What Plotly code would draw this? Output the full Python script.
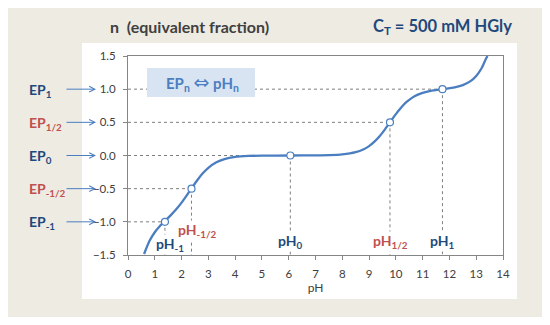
import plotly.graph_objects as go

# ---- data ----
ph_curve = [0.6, 0.8, 1.0, 1.2, 1.4, 1.6, 1.8, 2.0, 2.2, 2.4, 2.6, 2.8, 3.0, 3.3, 3.6,
            4.0, 4.5, 5.0, 6.06, 7.0, 7.5, 8.0, 8.5, 8.8, 9.0, 9.2, 9.4, 9.6, 9.8,
            10.0, 10.2, 10.4, 10.6, 10.8, 11.0, 11.3, 11.6, 11.9, 12.2, 12.5, 12.8,
            13.0, 13.2, 13.35, 13.42]
n_curve = [-1.485, -1.290, -1.157, -1.060, -0.979, -0.899, -0.812, -0.711, -0.598, -0.479,
           -0.365, -0.265, -0.185, -0.102, -0.054, -0.022, -0.007, -0.002, 0.0, 0.002,
           0.005, 0.016, 0.050, 0.095, 0.142, 0.208, 0.294, 0.398, 0.512, 0.624, 0.725,
           0.807, 0.869, 0.914, 0.945, 0.975, 0.993, 1.008, 1.028, 1.061, 1.125, 1.199,
           1.316, 1.447, 1.500]

ep_ph = [1.38, 2.37, 6.06, 9.78, 11.74]
ep_n = [-1.0, -0.5, 0.0, 0.5, 1.0]
ep_labels = ["EP<sub>-1</sub>", "EP<sub>-1/2</sub>", "EP<sub>0</sub>", "EP<sub>1/2</sub>", "EP<sub>1</sub>"]
ph_labels = ["pH<sub>-1</sub>", "pH<sub>-1/2</sub>", "pH<sub>0</sub>", "pH<sub>1/2</sub>", "pH<sub>1</sub>"]
is_half = [False, True, False, True, False]

x_ticks = list(range(0, 15))
y_ticks = [-1.5, -1.0, -0.5, 0.0, 0.5, 1.0, 1.5]

# ---- styles ----
FONT = "Lato"
BLUE = "#4A7EC1"
NAVY = "#1F497D"
RED = "#C0504D"
GRAY_TXT = "#404040"
BEIGE = "#EEEBE2"

OFF = 8            # page body margin offset
W, H = 550 - OFF, 325 - OFF
PL, PR, PT, PB = 128, 503, 56, 255      # plot area in page pixels
L, R, T, B = PL - OFF, W - (PR - OFF), PT - OFF, H - (PB - OFF)


def px(x):
    return (x - PL) / (PR - PL)


def py(y):
    return (PB - y) / (PB - PT)


fig = go.Figure()

# dashed guide lines
for p, n in zip(ep_ph, ep_n):
    fig.add_trace(go.Scatter(x=[0, p], y=[n, n], mode="lines",
                             line=dict(color="#7F7F7F", width=1, dash="3px,3px"),
                             hoverinfo="skip", showlegend=False))
    fig.add_trace(go.Scatter(x=[p, p], y=[n, y_ticks[0]], mode="lines",
                             line=dict(color="#7F7F7F", width=1, dash="3px,3px"),
                             hoverinfo="skip", showlegend=False))

fig.add_trace(go.Scatter(x=ph_curve, y=n_curve, mode="lines",
                         line=dict(color=BLUE, width=2.3, shape="spline", smoothing=0.6),
                         showlegend=False))
fig.add_trace(go.Scatter(x=ep_ph, y=ep_n, mode="markers",
                         marker=dict(size=7, color="white", line=dict(color=BLUE, width=1.2)),
                         showlegend=False))

shapes = [
    dict(type="rect", xref="paper", yref="paper", x0=px(7), x1=px(543), y0=py(317), y1=py(5),
         fillcolor=BEIGE, line=dict(width=0), layer="below"),
    dict(type="rect", xref="paper", yref="paper", x0=px(82), x1=px(517), y0=py(299), y1=py(43),
         fillcolor="white", line=dict(width=0), layer="below"),
    dict(type="rect", xref="paper", yref="paper", x0=px(147), x1=px(255), y0=py(97), y1=py(68),
         fillcolor="#D9E4F2", line=dict(width=0), layer="above"),
]

ann = []
ann.append(dict(xref="paper", yref="paper", x=px(108), y=py(27), xanchor="left", yanchor="middle",
                text="n  (equivalent fraction)", showarrow=False,
                font=dict(family=FONT, size=16, color=GRAY_TXT, weight="bold")))
ann.append(dict(xref="paper", yref="paper", x=px(514), y=py(27), xanchor="right", yanchor="middle",
                text="C<sub>T</sub> = 500 mM HGly", showarrow=False,
                font=dict(family=FONT, size=16.5, color=NAVY, weight="bold")))
ann.append(dict(xref="paper", yref="paper", x=px(202), y=py(82.5), xanchor="center", yanchor="middle",
                text="EP<sub>n</sub> <span style='font-family:DejaVu Sans;font-size:19px;font-weight:normal'>⇔</span> pH<sub>n</sub>",
                showarrow=False,
                font=dict(family=FONT, size=15, color=BLUE, weight="bold")))

for lab, n, half in zip(ep_labels, ep_n, is_half):
    ann.append(dict(xref="paper", yref="y", x=px(27), y=n, xanchor="left", yanchor="middle",
                    yshift=-1, text=lab, showarrow=False,
                    font=dict(family=FONT, size=14, color=RED if half else NAVY, weight="bold")))
    ann.append(dict(xref="paper", yref="y", x=px(96), y=n, ax=-31, ay=0, text="",
                    showarrow=True, arrowhead=5, arrowsize=1.1, arrowwidth=1,
                    arrowcolor=BLUE, standoff=0))

# pH labels (white background hides dashed line)
lab_pos = [(170, 244), (197, 230), (290, 241), (390, 241), (442, 241)]
for lab, half, (lx, ly) in zip(ph_labels, is_half, lab_pos):
    ann.append(dict(xref="paper", yref="paper", x=px(lx), y=py(ly), xanchor="center", yanchor="middle",
                    text=lab, showarrow=False, bgcolor="white", borderpad=0,
                    font=dict(family=FONT, size=14, color=RED if half else NAVY, weight="bold")))

fig.update_layout(
    width=W, height=H, autosize=False,
    margin=dict(l=L, r=R, t=T, b=B),
    paper_bgcolor="white", plot_bgcolor="white",
    font=dict(family=FONT, size=11.5, color=GRAY_TXT),
    shapes=shapes, annotations=ann,
    xaxis=dict(range=[0, 14], tickvals=x_ticks, showgrid=False, zeroline=False,
               showline=True, linecolor="#868686", linewidth=1, mirror=True,
               ticks="outside", ticklen=4, tickcolor="#868686", ticklabelstandoff=4,
               title=dict(text="pH", standoff=4, font=dict(size=12, color=GRAY_TXT))),
    yaxis=dict(range=[-1.5, 1.5], tickvals=y_ticks, tickformat=".1f", showgrid=False,
               zeroline=False, showline=True, linecolor="#868686", linewidth=1, mirror=True,
               ticks="outside", ticklen=4, tickcolor="#868686", ticklabelstandoff=5),
)

fig.write_html("out.html")
